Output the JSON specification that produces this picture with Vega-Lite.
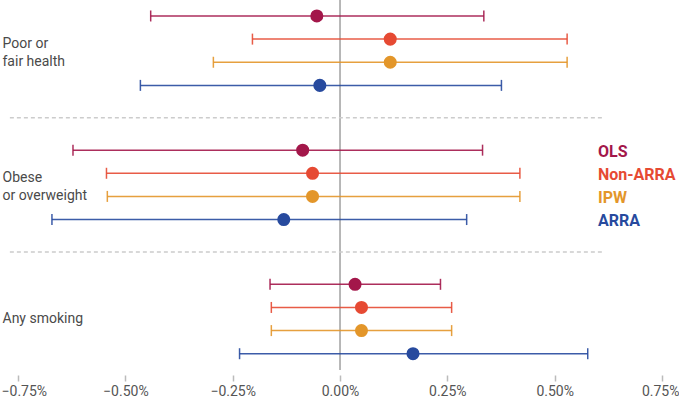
{
  "$schema": "https://vega.github.io/schema/vega-lite/v6.json",
  "width": 679,
  "height": 370,
  "autosize": {"type": "none"},
  "padding": {"top": 0, "left": 0, "right": 0, "bottom": 30},
  "background": "white",
  "config": {"view": {"stroke": null}, "font": "Roboto"},
  "layer": [
    {
      "data": {"values": [{"v": 0}]},
      "mark": {"type": "rule", "color": "#a0a0a0", "strokeWidth": 1.5},
      "encoding": {"x": {"field": "v", "type": "quantitative"}}
    },
    {
      "data": {"values": [{"outcome": "Obese or overweight"}, {"outcome": "Any smoking"}]},
      "mark": {"type": "rule", "strokeDash": [4, 3], "color": "#cccccc", "strokeWidth": 1.5},
      "encoding": {
        "y": {"field": "outcome", "type": "nominal", "bandPosition": 0},
        "x": {"datum": -0.769, "type": "quantitative"},
        "x2": {"datum": 0.613}
      }
    },
    {
      "data": {
        "values": [
          {"outcome": "Poor or fair health", "model": "OLS", "est": -0.054, "lo": -0.441, "hi": 0.335},
          {"outcome": "Poor or fair health", "model": "Non-ARRA", "est": 0.117, "lo": -0.204, "hi": 0.529},
          {"outcome": "Poor or fair health", "model": "IPW", "est": 0.117, "lo": -0.295, "hi": 0.529},
          {"outcome": "Poor or fair health", "model": "ARRA", "est": -0.047, "lo": -0.465, "hi": 0.376},
          {"outcome": "Obese or overweight", "model": "OLS", "est": -0.087, "lo": -0.622, "hi": 0.332},
          {"outcome": "Obese or overweight", "model": "Non-ARRA", "est": -0.064, "lo": -0.544, "hi": 0.419},
          {"outcome": "Obese or overweight", "model": "IPW", "est": -0.064, "lo": -0.542, "hi": 0.419},
          {"outcome": "Obese or overweight", "model": "ARRA", "est": -0.131, "lo": -0.671, "hi": 0.295},
          {"outcome": "Any smoking", "model": "OLS", "est": 0.035, "lo": -0.163, "hi": 0.234},
          {"outcome": "Any smoking", "model": "Non-ARRA", "est": 0.05, "lo": -0.16, "hi": 0.26},
          {"outcome": "Any smoking", "model": "IPW", "est": 0.05, "lo": -0.16, "hi": 0.26},
          {"outcome": "Any smoking", "model": "ARRA", "est": 0.17, "lo": -0.234, "hi": 0.577}
        ]
      },
      "encoding": {
        "y": {
          "field": "outcome",
          "type": "nominal",
          "scale": {
            "domain": ["Poor or fair health", "Obese or overweight", "Any smoking"],
            "range": [-16.4, 386.1],
            "paddingInner": 0,
            "paddingOuter": 0
          },
          "axis": {
            "orient": "left",
            "title": null,
            "domain": false,
            "ticks": false,
            "tickSize": 0,
            "grid": false,
            "labelAlign": "left",
            "labelPadding": -2,
            "labelFontSize": 14,
            "labelColor": "#4a4a4a",
            "labelLineHeight": 18,
            "labelBaseline": "middle",
            "labelOffset": {"condition": {"test": "datum.value == 'Any smoking'", "value": 0}, "value": -6.5},
            "labelExpr": "datum.value == 'Poor or fair health' ? ['Poor or', 'fair health'] : datum.value == 'Obese or overweight' ? ['Obese', 'or overweight'] : datum.label"
          }
        },
        "yOffset": {
          "field": "model",
          "type": "nominal",
          "scale": {"domain": ["OLS", "Non-ARRA", "IPW", "ARRA"], "paddingInner": 0, "paddingOuter": 0.9}
        },
        "color": {
          "field": "model",
          "type": "nominal",
          "scale": {"domain": ["OLS", "Non-ARRA", "IPW", "ARRA"], "range": ["#a3174a", "#e64a33", "#e3962a", "#274a9e"]},
          "legend": {
            "orient": "none",
            "legendX": 582,
            "legendY": 143.5,
            "title": null,
            "padding": 0,
            "symbolSize": 0,
            "symbolOpacity": 0,
            "symbolStrokeWidth": 0,
            "labelOffset": 0,
            "labelFontSize": 16,
            "labelFontWeight": "bold",
            "labelFont": "Roboto",
            "rowPadding": 7,
            "labelColor": {"expr": "datum.value === 'OLS' ? '#a3174a' : datum.value === 'Non-ARRA' ? '#e64a33' : datum.value === 'IPW' ? '#e3962a' : '#274a9e'"}
          }
        }
      },
      "layer": [
        {
          "mark": {"type": "rule", "strokeWidth": 1.5, "opacity": 0.9},
          "encoding": {
            "x": {
              "field": "lo",
              "type": "quantitative",
              "scale": {"domain": [-0.792, 0.7896], "nice": false, "zero": false},
              "axis": {
                "values": [-0.75, -0.5, -0.25, 0, 0.25, 0.5, 0.75],
                "labelExpr": "format(datum.value, '.2f') + '%'",
                "title": null,
                "domain": false,
                "grid": false,
                "ticks": true,
                "tickSize": 6,
                "offset": 5,
                "tickColor": "#bbbbbb",
                "tickWidth": 1.5,
                "labelFontSize": 14,
                "labelColor": "#555555",
                "labelPadding": 3,
                "labelFlush": 20,
                "labelFlushOffset": 17
              }
            },
            "x2": {"field": "hi"}
          }
        },
        {
          "mark": {"type": "tick", "size": 11, "thickness": 1.5, "orient": "vertical", "opacity": 0.9},
          "encoding": {"x": {"field": "lo", "type": "quantitative"}}
        },
        {
          "mark": {"type": "tick", "size": 11, "thickness": 1.5, "orient": "vertical", "opacity": 0.9},
          "encoding": {"x": {"field": "hi", "type": "quantitative"}}
        },
        {
          "mark": {"type": "circle", "size": 170, "opacity": 1},
          "encoding": {"x": {"field": "est", "type": "quantitative"}}
        }
      ]
    }
  ]
}
